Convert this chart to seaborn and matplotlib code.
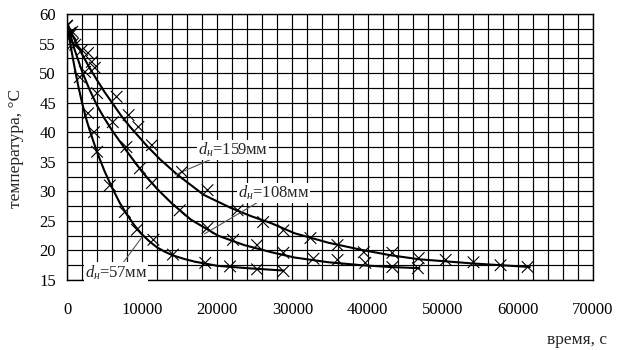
import numpy as np
import pandas as pd
import matplotlib
matplotlib.use("Agg")
import matplotlib.pyplot as plt
import seaborn as sns
from matplotlib.ticker import MultipleLocator

# ---- data ----
# smooth curves
line57_t = [0, 500, 1000, 1500, 2000, 2500, 3000, 4000, 5000, 6000, 7000, 8000, 9000, 10000, 11000,
            12000, 13000, 14000, 15500, 17000, 20000, 24000, 28800]
line57_T = [58.5, 54.5, 51, 47.8, 45, 42.5, 40.4, 36.6, 33.4, 30.6, 28.1, 26, 24.2, 22.7, 21.5,
            20.5, 19.8, 19.2, 18.6, 18.1, 17.4, 17.0, 16.6]

line108_t = [0, 1000, 2000, 3000, 4000, 5000, 6000, 8000, 10000, 12000, 14000, 16500, 20100, 23600,
             27200, 30300, 34800, 39200, 43000, 46900]
line108_T = [58.5, 54, 50.3, 47.2, 44.5, 42.3, 40.3, 36.7, 33.3, 30.4, 27.9, 25.2, 22.5, 20.9,
             19.7, 18.8, 18.0, 17.5, 17.2, 17.0]

line159_t = [0, 1000, 2000, 3000, 4000, 5000, 6000, 7200, 8400, 10700, 12400, 14700, 18200, 21800,
             24500, 27200, 30300, 34800, 39200, 43000, 46900, 54000, 61600]
line159_T = [58.5, 55.7, 53.2, 50.9, 48.8, 46.8, 45, 42.8, 40.9, 37.6, 35.4, 32.8, 29.4, 27.2,
             25.8, 24.6, 22.9, 21.3, 20.1, 19.2, 18.5, 17.8, 17.2]

# measured points
pts57_t = [0, 400, 800, 1700, 2800, 3600, 4000, 5700, 7700, 9300, 11500, 14100, 18400, 21700, 25300, 28800]
pts57_T = [58, 56.8, 55, 49.3, 43.2, 40, 36.7, 31, 26.5, 23.5, 21.8, 19.3, 17.9, 17.3, 16.8, 16.5]

pts108_t = [0, 500, 1100, 2400, 4000, 6100, 7900, 9700, 11300, 15000, 18700, 22100, 25300, 28800,
            32800, 36000, 39700, 43300, 46700]
pts108_T = [58, 56.5, 54.8, 50.2, 46.6, 41.7, 37.5, 33.9, 31.4, 26.8, 23.8, 21.8, 20.9, 19.6,
            18.6, 18.4, 17.9, 17.2, 17.0]

pts159_t = [0, 700, 2000, 2800, 3300, 3700, 6600, 8200, 9500, 11300, 15300, 18700, 22700, 26100,
            28800, 32400, 36000, 39500, 43300, 46800, 50400, 54100, 57700, 61300]
pts159_T = [58, 57, 53.9, 53.4, 51.9, 50.9, 46, 42.9, 40.9, 37.8, 33.3, 30.2, 26.8, 24.8,
            23.4, 22.1, 20.9, 19.7, 19.6, 18.7, 18.4, 18, 17.5, 17.2]

labels = ["$d_{н}$=57мм", "$d_{н}$=108мм", "$d_{н}$=159мм"]

lines = pd.concat([
    pd.DataFrame({"t": line57_t, "T": line57_T, "s": "57"}),
    pd.DataFrame({"t": line108_t, "T": line108_T, "s": "108"}),
    pd.DataFrame({"t": line159_t, "T": line159_T, "s": "159"}),
])
pts = pd.concat([
    pd.DataFrame({"t": pts57_t, "T": pts57_T, "s": "57"}),
    pd.DataFrame({"t": pts108_t, "T": pts108_T, "s": "108"}),
    pd.DataFrame({"t": pts159_t, "T": pts159_T, "s": "159"}),
])

sns.set_style("white")
plt.rcParams["font.family"] = ["Liberation Serif", "DejaVu Serif"]
plt.rcParams["mathtext.fontset"] = "custom"
plt.rcParams["mathtext.rm"] = "Liberation Serif"
plt.rcParams["mathtext.it"] = "Liberation Serif:italic"

fig = plt.figure(figsize=(6.21, 3.5), dpi=100)
ax = fig.add_axes([0.1079, 0.2, 0.8470, 0.76])

pal = {"57": "black", "108": "black", "159": "black"}
sns.lineplot(data=lines, x="t", y="T", hue="s", palette=pal, sort=False,
             estimator=None, lw=1.5, legend=False, ax=ax, zorder=3)
sns.scatterplot(data=pts, x="t", y="T", hue="s", palette=pal, marker="x",
                s=70, linewidth=0.8, legend=False, ax=ax, zorder=4)

ax.set_xlim(0, 70000)
ax.set_ylim(15, 60)
ax.xaxis.set_major_locator(MultipleLocator(10000))
ax.xaxis.set_minor_locator(MultipleLocator(2000))
ax.yaxis.set_major_locator(MultipleLocator(5))
ax.yaxis.set_minor_locator(MultipleLocator(2.5))
ax.grid(which="both", color="black", lw=0.85)
ax.set_axisbelow(True)
for sp in ax.spines.values():
    sp.set_color("black")
    sp.set_linewidth(1.0)
ax.tick_params(axis="x", which="major", direction="out", length=5, width=1, colors="black",
               labelsize=12, pad=11)
ax.tick_params(axis="y", which="major", direction="out", length=4, width=1, colors="black",
               labelsize=12, pad=4)
ax.tick_params(which="minor", length=0)
ax.set_xlabel("")
ax.set_ylabel("")

fig.text(0.025, 0.575, "температура, °С", rotation=90, ha="center", va="center", fontsize=12.5)
fig.text(0.978, 0.03, "время, с", ha="right", va="center", fontsize=12.5)

bbox = dict(facecolor="white", edgecolor="none", pad=0.5)
arrow = dict(arrowstyle="-", color="#555555", lw=0.8, shrinkA=0, shrinkB=0)
ax.annotate(labels[2], xy=(14400, 32.8), xytext=(17400, 37.0), fontsize=12,
            ha="left", va="center", bbox=bbox, arrowprops=arrow)
ax.annotate(labels[1], xy=(18300, 22.8), xytext=(22700, 29.7), fontsize=12,
            ha="left", va="center", bbox=bbox, arrowprops=arrow)
ax.annotate(labels[0], xy=(10000, 22.3), xytext=(2400, 16.3), fontsize=12,
            ha="left", va="center", bbox=bbox, arrowprops=arrow)

fig.savefig("out.png", dpi=100)
